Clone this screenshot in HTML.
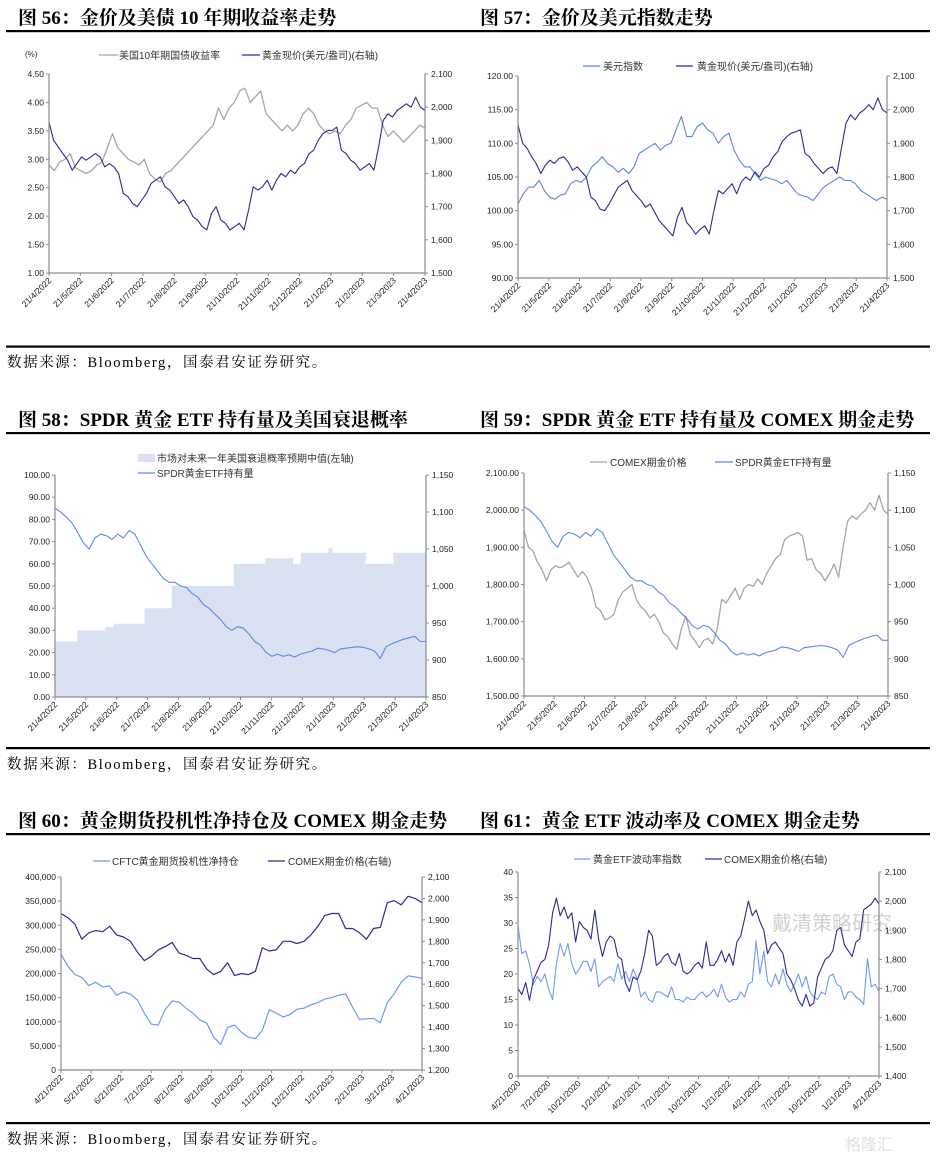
<!DOCTYPE html>
<html><head><meta charset="utf-8">
<style>
html,body{margin:0;padding:0;background:#fff;}
svg{display:block;}
.t{font-family:"Liberation Serif","Noto Serif CJK SC",serif;font-weight:bold;font-size:19px;fill:#000;}
.src{font-family:"Liberation Serif","Noto Serif CJK SC",serif;font-size:14.5px;letter-spacing:1.6px;fill:#000;}
.ax{font-family:"Liberation Sans","Noto Sans CJK SC",sans-serif;font-size:8.5px;fill:#222;}
.lg{font-family:"Liberation Sans","Noto Sans CJK SC",sans-serif;font-size:10px;fill:#333;}
</style></head><body>
<svg id="root" width="940" height="1158" viewBox="0 0 940 1158" xmlns="http://www.w3.org/2000/svg">
<rect width="940" height="1158" fill="#fff"/>
<text class="t" x="18" y="24">图 56：金价及美债 10 年期收益率走势</text>
<text class="t" x="480" y="24">图 57：金价及美元指数走势</text>
<text class="t" x="18" y="426">图 58：SPDR 黄金 ETF 持有量及美国衰退概率</text>
<text class="t" x="480" y="426">图 59：SPDR 黄金 ETF 持有量及 COMEX 期金走势</text>
<text class="t" x="18" y="827">图 60：黄金期货投机性净持仓及 COMEX 期金走势</text>
<text class="t" x="480" y="827">图 61：黄金 ETF 波动率及 COMEX 期金走势</text>
<g>
<rect x="6" y="30" width="464" height="2.2" fill="#000"/>
<rect x="470" y="30" width="460" height="2.2" fill="#000"/>
<rect x="6" y="345.5" width="464" height="2.2" fill="#000"/>
<rect x="470" y="345.5" width="460" height="2.2" fill="#000"/>
<rect x="6" y="432" width="464" height="2.2" fill="#000"/>
<rect x="470" y="432" width="460" height="2.2" fill="#000"/>
<rect x="6" y="747" width="464" height="2.2" fill="#000"/>
<rect x="470" y="747" width="460" height="2.2" fill="#000"/>
<rect x="6" y="833" width="464" height="2.2" fill="#000"/>
<rect x="470" y="833" width="460" height="2.2" fill="#000"/>
<rect x="6" y="1122" width="464" height="2.2" fill="#000"/>
<rect x="470" y="1122" width="460" height="2.2" fill="#000"/>
</g>
<text class="src" x="7" y="367">数据来源：Bloomberg，国泰君安证券研究。</text>
<text class="src" x="7" y="769">数据来源：Bloomberg，国泰君安证券研究。</text>
<text class="src" x="7" y="1144">数据来源：Bloomberg，国泰君安证券研究。</text>
<g>
<text class="lg" x="25" y="57" style="font-size:8px">(%)</text>
<line x1="99" y1="55" x2="118" y2="55" stroke="#a6a6a6" stroke-width="1.2"/>
<text class="lg" x="119" y="59">美国10年期国债收益率</text>
<line x1="242" y1="55" x2="260" y2="55" stroke="#2b2b95" stroke-width="1.2"/>
<text class="lg" x="262" y="59">黄金现价(美元/盎司)(右轴)</text>
</g>
<g>
<line x1="583" y1="66" x2="600" y2="66" stroke="#5b87dc" stroke-width="1.2"/>
<text class="lg" x="603" y="70">美元指数</text>
<line x1="676" y1="66" x2="693" y2="66" stroke="#2b2b95" stroke-width="1.2"/>
<text class="lg" x="697" y="70">黄金现价(美元/盎司)(右轴)</text>
</g>
<g>
<rect x="138" y="454" width="17" height="8" fill="#d9e1f2"/>
<text class="lg" x="157" y="462">市场对未来一年美国衰退概率预期中值(左轴)</text>
<line x1="138" y1="473" x2="155" y2="473" stroke="#5b87f0" stroke-width="1.2"/>
<text class="lg" x="157" y="477">SPDR黄金ETF持有量</text>
</g>
<g>
<line x1="590" y1="462" x2="607" y2="462" stroke="#a6a6a6" stroke-width="1.2"/>
<text class="lg" x="610" y="466">COMEX期金价格</text>
<line x1="715" y1="462" x2="733" y2="462" stroke="#5b87f0" stroke-width="1.2"/>
<text class="lg" x="735" y="466">SPDR黄金ETF持有量</text>
</g>
<g>
<line x1="93" y1="861" x2="110" y2="861" stroke="#6d9bf2" stroke-width="1.2"/>
<text class="lg" x="112" y="865">CFTC黄金期货投机性净持仓</text>
<line x1="268" y1="861" x2="285" y2="861" stroke="#2b2b95" stroke-width="1.2"/>
<text class="lg" x="288" y="865">COMEX期金价格(右轴)</text>
</g>
<g>
<line x1="574" y1="859" x2="590" y2="859" stroke="#6d9bf2" stroke-width="1.2"/>
<text class="lg" x="593" y="863">黄金ETF波动率指数</text>
<line x1="705" y1="859" x2="722" y2="859" stroke="#2b2b95" stroke-width="1.2"/>
<text class="lg" x="724" y="863">COMEX期金价格(右轴)</text>
</g>
<g opacity="0.45">
<text x="772" y="930" style="font-family:'Noto Sans CJK SC',sans-serif;font-size:20px;fill:#999">戴清策略研究</text>
<text x="845" y="1150" style="font-family:'Noto Sans CJK SC',sans-serif;font-size:16px;fill:#bbb">格隆汇</text>
</g>
</svg>
<script>
const xLabelsA = ["21/4/2022","21/5/2022","21/6/2022","21/7/2022","21/8/2022","21/9/2022","21/10/2022","21/11/2022","21/12/2022","21/1/2023","21/2/2023","21/3/2023","21/4/2023"];
const ticks56L = ["1.00","1.50","2.00","2.50","3.00","3.50","4.00","4.50"];
const ticks56R = ["1,500","1,600","1,700","1,800","1,900","2,000","2,100"];
const yield10y = [2.9,2.8,2.95,3.0,3.1,2.85,2.8,2.75,2.8,2.9,2.95,3.2,3.45,3.2,3.1,3.0,2.95,2.9,3.0,2.75,2.65,2.6,2.75,2.8,2.9,3.0,3.1,3.2,3.3,3.4,3.5,3.6,3.9,3.7,3.9,4.0,4.2,4.25,4.0,4.1,4.2,3.8,3.7,3.6,3.5,3.6,3.5,3.6,3.8,3.9,3.8,3.6,3.5,3.45,3.5,3.45,3.6,3.7,3.9,3.95,4.0,3.9,3.9,3.6,3.4,3.5,3.4,3.3,3.4,3.5,3.6,3.55];
const goldSpot56 = [1955,1900,1880,1860,1840,1810,1830,1850,1840,1850,1860,1850,1820,1830,1820,1800,1740,1730,1710,1700,1720,1740,1770,1780,1790,1760,1750,1730,1710,1720,1700,1670,1660,1640,1630,1680,1700,1660,1650,1630,1640,1650,1630,1690,1760,1750,1760,1780,1750,1780,1800,1790,1810,1800,1820,1830,1860,1870,1900,1920,1930,1930,1940,1870,1860,1840,1830,1810,1820,1830,1810,1880,1960,1980,1970,1990,2000,2010,2000,2030,2000,1990];
const ticks57L = ["90.00","95.00","100.00","105.00","110.00","115.00","120.00"];
const ticks57R = ["1,500","1,600","1,700","1,800","1,900","2,000","2,100"];
const dxy = [101,102.5,103.5,103.5,104.5,103,102,101.7,102.3,102.5,104,104.5,104.2,105,106.5,107.2,108,107,106.5,105.7,106.3,105.5,106.5,108.5,109,109.5,110,109,109.7,110,112,114,111,111,112.5,113,112,111.5,110,111,111.5,109,107.5,106.5,106.5,105.5,104.5,105,104.7,104.5,104,104.5,103.5,102.5,102.2,102,101.5,102.5,103.5,104,104.5,105,104.5,104.5,104,103,102.5,102,101.5,102,101.7];
const goldSpot57 = [1955,1900,1885,1860,1840,1810,1835,1850,1840,1855,1860,1845,1820,1830,1815,1800,1740,1730,1705,1700,1720,1745,1770,1780,1790,1760,1745,1730,1710,1720,1695,1670,1655,1640,1625,1680,1710,1665,1650,1630,1645,1655,1630,1700,1760,1750,1765,1780,1750,1785,1800,1790,1815,1800,1825,1835,1860,1875,1905,1920,1930,1935,1940,1870,1860,1840,1825,1810,1825,1830,1810,1885,1960,1985,1970,1990,2000,2015,2000,2035,2000,1990];
const ticks58L = ["0.00","10.00","20.00","30.00","40.00","50.00","60.00","70.00","80.00","90.00","100.00"];
const ticks58R = ["850","900","950","1,000","1,050","1,100","1,150"];
const recessMonth = [0,0.72,1.62,1.9,2.9,3.78,5.78,6.8,7.7,7.95,8.85,8.98,10.05,10.95];
const recessProb = [25,30,31.5,33,40,50,60,62.5,60,65,67,65,60,65];
const spdr58 = [1105,1100,1093,1085,1072,1058,1050,1065,1070,1068,1063,1070,1065,1075,1070,1055,1040,1030,1020,1010,1005,1005,1000,998,990,985,975,970,962,955,945,940,945,943,935,925,920,910,905,908,905,907,904,908,910,912,916,915,913,910,915,916,917,918,917,915,912,902,918,922,925,928,930,932,925,925];
const ticks59L = ["1,500.00","1,600.00","1,700.00","1,800.00","1,900.00","2,000.00","2,100.00"];
const ticks59R = ["850","900","950","1,000","1,050","1,100","1,150"];
const comex59 = [1945,1900,1890,1860,1840,1810,1840,1850,1845,1850,1860,1840,1820,1835,1820,1790,1740,1730,1705,1710,1720,1760,1780,1790,1800,1760,1740,1730,1710,1720,1700,1670,1660,1640,1625,1680,1715,1665,1650,1630,1650,1655,1640,1680,1760,1750,1770,1790,1760,1790,1800,1795,1815,1800,1830,1850,1870,1880,1920,1930,1935,1940,1930,1865,1870,1840,1830,1810,1830,1855,1820,1900,1970,1985,1975,1990,2000,2020,2000,2040,2000,1990];
const spdr59 = [1105,1100,1093,1085,1072,1058,1050,1065,1070,1068,1063,1070,1065,1075,1070,1055,1040,1030,1020,1010,1005,1005,1000,998,990,985,975,970,962,955,945,940,945,943,935,925,920,910,905,908,905,907,904,908,910,912,916,915,913,910,915,916,917,918,917,915,912,902,918,922,925,928,930,932,925,925];
const xLabels60 = ["4/21/2022","5/21/2022","6/21/2022","7/21/2022","8/21/2022","9/21/2022","10/21/2022","11/21/2022","12/21/2022","1/21/2023","2/21/2023","3/21/2023","4/21/2023"];
const ticks60L = ["0","50,000","100,000","150,000","200,000","250,000","300,000","350,000","400,000"];
const ticks60R = ["1,200","1,300","1,400","1,500","1,600","1,700","1,800","1,900","2,000","2,100"];
const cftcNet = [240000,215000,198000,192000,175000,182000,172000,174000,155000,162000,157000,145000,118000,95000,93000,125000,143000,141000,128000,118000,104000,97000,68000,53000,88000,93000,78000,68000,65000,82000,125000,118000,110000,115000,126000,128000,135000,140000,147000,150000,155000,158000,130000,105000,106000,107000,98000,140000,158000,182000,195000,193000,190000];
const comex60 = [1930,1910,1880,1810,1840,1850,1845,1870,1830,1820,1800,1750,1710,1730,1760,1775,1795,1745,1735,1720,1720,1670,1645,1660,1700,1640,1650,1645,1660,1770,1755,1760,1800,1800,1790,1800,1830,1870,1920,1930,1930,1860,1860,1840,1810,1860,1865,1980,1990,1970,2010,2000,1980];
const xLabels61 = ["4/21/2020","7/21/2020","10/21/2020","1/21/2021","4/21/2021","7/21/2021","10/21/2021","1/21/2022","4/21/2022","7/21/2022","10/21/2022","1/21/2023","4/21/2023"];
const ticks61L = ["0","5","10","15","20","25","30","35","40"];
const ticks61R = ["1,400","1,500","1,600","1,700","1,800","1,900","2,000","2,100"];
const etfVol = [29.5,24,24.5,22,18,19.5,18.5,20,17,15,22,26,23.5,26,22,20,21,22.5,22.5,20.5,23,17.5,18.5,19,19.5,18.5,22,19,20.5,18.5,21,19,15.5,16.5,15,14.5,16.5,16.5,16,15.5,17.5,15,15,14.5,15.5,15,15,16,16.5,15.5,16,17,15.5,18,15.5,14.5,15,15,16.5,15.5,18,18.5,26.5,20,24.5,18.5,17.5,20,18,21,18,16.5,18,20,17.5,19.5,16.5,15.5,15,16.5,16,19.5,20,18,17.5,15,16.5,16.5,15.5,15,14,23,17.5,18,16.5];
const comex61 = [1700,1680,1720,1660,1730,1760,1790,1800,1850,1960,2010,1950,1980,1940,1960,1860,1930,1910,1900,1870,1970,1870,1810,1860,1880,1870,1810,1800,1720,1690,1740,1730,1760,1820,1900,1880,1780,1790,1810,1820,1790,1780,1820,1760,1750,1760,1780,1790,1770,1860,1780,1780,1800,1830,1790,1820,1780,1860,1880,1940,2000,1950,1970,1930,1900,1820,1850,1860,1840,1820,1750,1730,1700,1660,1640,1680,1640,1650,1740,1770,1800,1810,1830,1900,1910,1850,1830,1810,1860,1870,1970,1980,1990,2010,1990];

const NS = "http://www.w3.org/2000/svg";
const root = document.getElementById('root');
function mk(tag, attrs, parent){const e=document.createElementNS(NS,tag);for(const k in attrs)e.setAttribute(k,attrs[k]);(parent||root).appendChild(e);return e;}
function num(s){return parseFloat(String(s).replace(/,/g,''));}

function drawChart(c){
  const g = mk('g',{});
  
  
  const lMin=num(c.lt[0]), lMax=num(c.lt[c.lt.length-1]);
  const rMin=num(c.rt[0]), rMax=num(c.rt[c.rt.length-1]);
  const yL=v=>c.yB-(v-lMin)/(lMax-lMin)*(c.yB-c.yT);
  const yR=v=>c.yB-(v-rMin)/(rMax-rMin)*(c.yB-c.yT);
  const nX=c.xl.length-1;
  const xM=m=>c.x0+m/nX*(c.x1-c.x0);
  if(c.area){
    const a=c.area; let d='M'+xM(a.m[0])+','+c.yB;
    for(let i=0;i<a.m.length;i++){
      d+=' L'+xM(a.m[i])+','+yL(a.v[i]);
      const nx = i+1<a.m.length? a.m[i+1] : nX;
      d+=' L'+xM(nx)+','+yL(a.v[i]);
    }
    d+=' L'+xM(nX)+','+c.yB+' Z';
    const p=mk('path',{d:d,fill:'#d9e1f2'},g);
    
    
  }
  c.series.forEach(s=>{
    const sc = s.axis==='r'?yR:yL; const n=s.data.length-1;
    const pts=s.data.map((v,i)=>(c.x0+i/n*(c.x1-c.x0)).toFixed(1)+','+sc(v).toFixed(1)).join(' ');
    const pl=mk('polyline',{points:pts,fill:'none',stroke:s.color,'stroke-width':s.w||1,'stroke-linejoin':'round'},g);
    
    
  });
  const ac='#8c8c8c';
  mk('line',{x1:c.x0,y1:c.yT,x2:c.x0,y2:c.yB,stroke:ac,'stroke-width':1.2},g);
  mk('line',{x1:c.x1,y1:c.yT,x2:c.x1,y2:c.yB,stroke:ac,'stroke-width':1.2},g);
  mk('line',{x1:c.x0,y1:c.yB,x2:c.x1,y2:c.yB,stroke:ac,'stroke-width':1.2},g);
  c.lt.forEach((t,i)=>{const y=yL(num(t));
    mk('line',{x1:c.x0-3,y1:y,x2:c.x0,y2:y,stroke:ac},g);
    const tx=mk('text',{x:c.x0-5,y:y+3,'text-anchor':'end',class:'ax'},g);tx.textContent=t;
    
    });
  c.rt.forEach((t,i)=>{const y=yR(num(t));
    mk('line',{x1:c.x1,y1:y,x2:c.x1+3,y2:y,stroke:ac},g);
    const tx=mk('text',{x:c.x1+6,y:y+3,class:'ax'},g);tx.textContent=t;
    
    });
  c.xl.forEach((t,i)=>{const x=xM(i);
    mk('line',{x1:x,y1:c.yB,x2:x,y2:c.yB+3,stroke:ac},g);
    const tx=mk('text',{x:x+3,y:c.yB+8,'text-anchor':'end',class:'ax',transform:'rotate(-45 '+(x+3)+' '+(c.yB+8)+')'},g);tx.textContent=t;
    
    });
}

drawChart({name:'chart-fig-56',x0:49,x1:425,yT:74,yB:273,lt:ticks56L,rt:ticks56R,xl:xLabelsA,
  series:[{name:'us10y-yield-line',data:yield10y,axis:'l',color:'#a6a6a6',w:1.3},{name:'gold-spot-line',data:goldSpot56,axis:'r',color:'#2b2b95',w:1.1}]});
drawChart({name:'chart-fig-57',x0:518,x1:887,yT:76,yB:278,lt:ticks57L,rt:ticks57R,xl:xLabelsA,
  series:[{name:'dollar-index-line',data:dxy,axis:'l',color:'#5b87dc',w:1.1},{name:'gold-spot-line',data:goldSpot57,axis:'r',color:'#2b2b95',w:1.1}]});
drawChart({name:'chart-fig-58',x0:55,x1:426,yT:475,yB:697,lt:ticks58L,rt:ticks58R,xl:xLabelsA,
  area:{m:recessMonth,v:recessProb},
  series:[{name:'spdr-holdings-line',data:spdr58,axis:'r',color:'#5b87f0',w:1.1}]});
drawChart({name:'chart-fig-59',x0:524,x1:888,yT:473,yB:696,lt:ticks59L,rt:ticks59R,xl:xLabelsA,
  series:[{name:'comex-gold-line',data:comex59,axis:'l',color:'#a6a6a6',w:1.3},{name:'spdr-holdings-line',data:spdr59,axis:'r',color:'#5b87f0',w:1.1}]});
drawChart({name:'chart-fig-60',x0:61,x1:422,yT:877,yB:1070,lt:ticks60L,rt:ticks60R,xl:xLabels60,
  series:[{name:'cftc-net-long-line',data:cftcNet,axis:'l',color:'#6d9bf2',w:1.2},{name:'comex-gold-line',data:comex60,axis:'r',color:'#2b2b95',w:1.2}]});
drawChart({name:'chart-fig-61',x0:518,x1:879,yT:872,yB:1076,lt:ticks61L,rt:ticks61R,xl:xLabels61,
  series:[{name:'gold-etf-volatility-line',data:etfVol,axis:'l',color:'#6d9bf2',w:1.1},{name:'comex-gold-line',data:comex61,axis:'r',color:'#2b2b95',w:1.1}]});
</script>
</body></html>
